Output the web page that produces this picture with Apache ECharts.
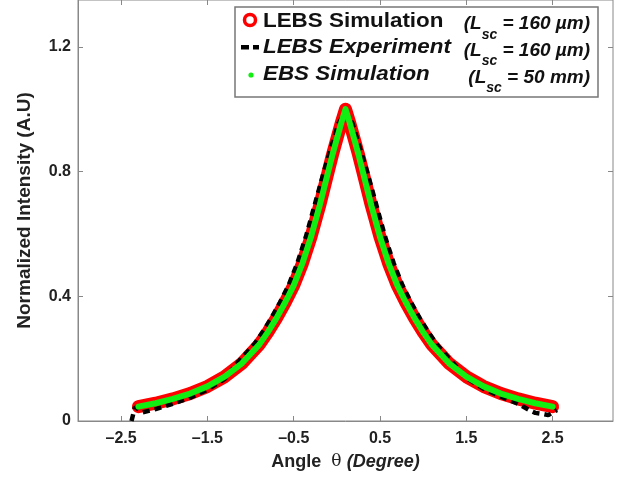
<!DOCTYPE html>
<html><head><meta charset="utf-8">
<script src="https://cdn.jsdelivr.net/npm/echarts@6/dist/echarts.min.js"></script>
<style>html,body{margin:0;padding:0;background:#fff}#c{width:622px;height:480px}</style>
</head><body><div id="c"></div>
<script>
// ---- data ----
const simX = [-2.3,-2.1,-1.9,-1.7,-1.5,-1.3,-1.1,-0.9,-0.8,-0.7,-0.6,-0.5,-0.4,-0.3,-0.2,-0.1,-0.05,0,0.05,0.1,
              0.15,0.2,0.25,0.3,0.4,0.5,0.6,0.7,0.8,0.9,1.0,1.1,1.3,1.5,1.7,1.9,2.1,2.3,2.5];
const lebsSimY = [0.046,0.057,0.071,0.088,0.111,0.142,0.185,0.245,0.285,0.33,0.38,0.435,0.505,0.59,0.69,0.80,0.855,0.905,0.955,1.0,
                  0.955,0.905,0.855,0.80,0.69,0.59,0.505,0.435,0.38,0.33,0.285,0.245,0.185,0.142,0.111,0.088,0.071,0.057,0.046];
const ebsSimY  = [0.046,0.057,0.071,0.088,0.111,0.142,0.185,0.245,0.285,0.33,0.38,0.435,0.505,0.59,0.69,0.80,0.855,0.905,0.955,1.0,
                  0.955,0.905,0.855,0.80,0.69,0.59,0.505,0.435,0.38,0.33,0.285,0.245,0.185,0.142,0.111,0.088,0.071,0.057,0.046];
const expX = [-2.38,-2.34,-2.25,-2.1,-1.9,-1.7,-1.5,-1.3,-1.16,-0.96,-0.86,-0.76,-0.66,-0.56,-0.46,-0.36,-0.26,-0.15,-0.09,-0.035,0.02,0.1,
              0.18,0.235,0.29,0.35,0.46,0.56,0.66,0.76,0.86,0.96,1.06,1.16,1.35,1.5,1.7,1.9,2.1,2.25,2.3,2.4,2.45,2.55];
const expY = [0.0,0.045,0.028,0.038,0.055,0.075,0.1,0.135,0.185,0.245,0.285,0.33,0.38,0.435,0.505,0.59,0.69,0.80,0.855,0.905,0.955,0.99,
              0.955,0.905,0.855,0.80,0.69,0.59,0.505,0.435,0.38,0.33,0.285,0.245,0.185,0.138,0.103,0.078,0.055,0.032,0.026,0.022,0.019,0.035];
const xTicks = [-2.5,-1.5,-0.5,0.5,1.5,2.5];
const yTicks = [0,0.4,0.8,1.2];
const names = ['LEBS Simulation','LEBS Experiment','EBS Simulation'];
const lscLabels = ['160 \u00b5m','160 \u00b5m','50 mm'];

const FONT = "'Liberation Sans', Arial, Helvetica, sans-serif";
const zip = (xs, ys) => xs.map((x, i) => [x, ys[i]]);
const fmtX = v => (v < 0 ? '\u2013' : '') + Math.abs(v);

const chart = echarts.init(document.getElementById('c'), null, {renderer: 'canvas'});
const rowY = [21, 47.5, 74.5];
const legendGraphics = [
  {type:'rect', shape:{x:235, y:7, width:363, height:90}, style:{fill:'#fff', stroke:'#777', lineWidth:1.5}, z:100},
  {type:'circle', shape:{cx:250, cy:20, r:5.5}, style:{fill:'#fff', stroke:'#ff0000', lineWidth:3.5}, z:101},
  {type:'rect', shape:{x:241, y:45, width:8, height:4.5}, style:{fill:'#000'}, z:101},
  {type:'rect', shape:{x:253, y:45, width:6, height:4.5}, style:{fill:'#000'}, z:101},
  {type:'circle', shape:{cx:251, cy:75, r:2.6}, style:{fill:'#11ee11'}, z:101}
];
names.forEach((n, i) => {
  const cy = rowY[i];
  legendGraphics.push({type:'text', x:263, y:cy, scaleX:1.12, z:101,
    style:{text:n, font:(i === 0 ? '' : 'italic ') + 'bold 20px ' + FONT, fill:'#111', verticalAlign:'middle', align:'left'}});
  legendGraphics.push({type:'text', x:590, y:cy + 3, z:101,
    style:{text:'{a|(L}{s|sc}{a| = ' + lscLabels[i] + ')}', align:'right', verticalAlign:'middle',
      rich:{a:{font:'italic bold 19px ' + FONT, fill:'#111', lineHeight:36},
            s:{font:'italic bold 14px ' + FONT, fill:'#111', lineHeight:14, verticalAlign:'bottom'}}}});
});

chart.setOption({
  animation:false,
  backgroundColor:'#fff',
  grid:{left:78, right:9, top:0, bottom:59, show:true, borderColor:'#888', borderWidth:1},
  xAxis:[{
    type:'value', min:-3, max:3.2, position:'bottom',
    axisLine:{show:true, onZero:false, lineStyle:{color:'#888'}},
    axisTick:{show:true, inside:true, length:5, customValues:xTicks, lineStyle:{color:'#888'}},
    axisLabel:{show:true, customValues:xTicks, formatter:fmtX, margin:10, fontFamily:FONT, fontWeight:'bold', fontSize:16, color:'#222'},
    splitLine:{show:false},
    name:'{a|Angle  }{t|\u03b8 }{b|(Degree)}', nameLocation:'middle', nameGap:32,
    nameTextStyle:{rich:{a:{fontFamily:FONT, fontWeight:'bold', fontSize:18, color:'#222'},
                         t:{fontFamily:"'DejaVu Serif', serif", fontSize:17, color:'#222'},
                         b:{fontFamily:FONT, fontWeight:'bold', fontStyle:'italic', fontSize:18, color:'#222'}}}
  },{
    type:'value', min:-3, max:3.2, position:'top',
    axisLine:{show:false, onZero:false}, axisLabel:{show:false}, splitLine:{show:false},
    axisTick:{show:true, inside:true, length:5, customValues:xTicks, lineStyle:{color:'#888'}}
  }],
  yAxis:[{
    type:'value', min:0, max:1.35, interval:0.4, position:'left',
    axisLine:{show:true, onZero:false, lineStyle:{color:'#888'}},
    axisTick:{show:true, inside:true, length:5, customValues:yTicks, lineStyle:{color:'#888'}},
    axisLabel:{show:true, customValues:yTicks, margin:7, fontFamily:FONT, fontWeight:'bold', fontSize:16, color:'#222',
               formatter:v => String(+v.toFixed(1))},
    splitLine:{show:false},
    name:'Normalized Intensity (A.U)', nameLocation:'middle', nameGap:44,
    nameTextStyle:{fontFamily:FONT, fontWeight:'bold', fontSize:19, color:'#222'}
  },{
    type:'value', min:0, max:1.35, interval:0.4, position:'right',
    axisLine:{show:false, onZero:false}, axisLabel:{show:false}, splitLine:{show:false},
    axisTick:{show:true, inside:true, length:5, customValues:yTicks, lineStyle:{color:'#888'}}
  }],
  series:[
    {name:names[0], type:'line', data:zip(simX, lebsSimY), showSymbol:false, z:2,
     lineStyle:{color:'#ff0000', width:13, cap:'round', join:'round'}},
    {name:names[1], type:'line', data:zip(expX, expY), showSymbol:false, z:3,
     lineStyle:{color:'#000', width:4.5, type:[7,5]}},
    {name:names[2], type:'line', data:zip(simX, ebsSimY), showSymbol:false, z:4,
     lineStyle:{color:'#11ee11', width:6, cap:'round', join:'round'}}
  ],
  graphic:legendGraphics
});
</script>
</body></html>
